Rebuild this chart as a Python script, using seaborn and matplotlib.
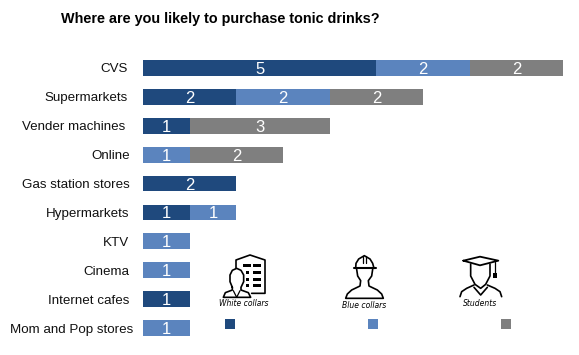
import numpy as np
import pandas as pd
import seaborn as sns
import matplotlib
matplotlib.use('Agg')
import matplotlib.pyplot as plt
from matplotlib.patches import Rectangle
from matplotlib.transforms import ScaledTranslation

channels = ['CVS', 'Supermarkets', 'Vender machines', 'Online', 'Gas station stores',
            'Hypermarkets', 'KTV', 'Cinema', 'Internet cafes', 'Mom and Pop stores']
white_collars = [5, 2, 1, 0, 2, 1, 0, 0, 1, 0]
blue_collars = [2, 2, 0, 1, 0, 1, 1, 1, 0, 1]
students = [2, 2, 3, 2, 0, 0, 0, 0, 0, 0]
segments = ['White collars', 'Blue collars', 'Students']
title_text = 'Where are you likely to purchase tonic drinks?'

DARK, BLUE, GREY = '#1F497D', '#5B84BE', '#7F7F7F'
W, H = 579, 355

sns.set_theme(style='white')
plt.rcParams['font.family'] = ['Liberation Sans', 'DejaVu Sans']

df = pd.DataFrame({'channel': channels, 'White collars': white_collars,
                   'Blue collars': blue_collars, 'Students': students})

fig = plt.figure(figsize=(W / 100, H / 100), dpi=100)
ax = fig.add_axes([143 / W, 1 - 342.5 / H, 420 / W, 289 / H])

# stacked bars, one barplot call per segment
left = np.zeros(len(df))
for seg, col in zip(segments, [DARK, BLUE, GREY]):
    sns.barplot(data=df, y='channel', x=seg, left=left, color=col, saturation=1,
                width=0.55, ax=ax, label=seg, legend=False, linewidth=0, edgecolor='none')
    cont = ax.containers[-1]
    labs = [str(v) if v else '' for v in df[seg]]
    for t in ax.bar_label(cont, labels=labs, label_type='center', color='white', fontsize=12):
        t.set_va('center_baseline')
    left = left + df[seg].to_numpy()

ax.set_xlim(0, 9)
ax.set_ylim(9.5, -0.5)
ax.set_xlabel('')
ax.set_ylabel('')
ax.set_xticks([])
ax.tick_params(axis='y', length=0, pad=10, labelsize=9.6, labelcolor='#111111')
sns.despine(ax=ax, left=True, bottom=True)

# the labels in the original are not quite flush right
label_shift = [-1, -1, -4, 1, 1, 0, 0, 0, 0, 4]
for lab, dx in zip(ax.get_yticklabels(), label_shift):
    lab.set_transform(lab.get_transform() + ScaledTranslation(dx / 100, 0, fig.dpi_scale_trans))

fig.text(61 / W, 1 - 19 / H, title_text, fontsize=10.4, fontweight='bold',
         color='black', va='center', ha='left')

# overlay in pixel coords for the icon legend
ov = fig.add_axes([0, 0, 1, 1])
ov.set_xlim(0, W)
ov.set_ylim(H, 0)
ov.axis('off')


def z(points):
    return [200 + p[0] / 3 for p in points], [240 + p[1] / 3 for p in points]


def stroke(points, lw=1.2):
    xs, ys = z(points)
    ov.plot(xs, ys, color='black', lw=lw, solid_capstyle='round', solid_joinstyle='round')


def block(x, y, w, h):
    ov.add_patch(Rectangle((200 + x / 3, 240 + y / 3), w / 3, h / 3, color='black', lw=0))


# white collars icon
stroke([(108, 85), (108, 60), (150, 45), (195, 60), (195, 160), (155, 160)])
for bx, by, bw in [(130, 72, 24), (160, 72, 22), (160, 94, 22), (160, 113, 22),
                   (160, 132, 22), (137, 94, 10), (137, 113, 10), (137, 132, 10)]:
    block(bx, by, bw, 9)
stroke([(97, 142), (90, 125), (90, 105), (97, 91), (110, 85), (123, 91), (131, 105), (131, 125),
        (123, 142), (123, 150), (145, 158), (152, 172), (70, 172), (76, 158), (97, 150), (97, 142)])
stroke([(100, 152), (110, 172), (120, 152)], lw=0.9)

# blue collars icon
stroke([(462, 85), (527, 85)], lw=1.5)
stroke([(467, 85), (468, 70), (476, 57), (493, 47), (510, 57), (518, 70), (522, 85)])
stroke([(488, 48), (488, 68)], lw=0.9)
stroke([(499, 48), (499, 68)], lw=0.9)
stroke([(470, 88), (473, 108), (482, 122), (480, 138), (455, 150), (442, 162), (437, 175),
        (550, 175), (545, 162), (532, 150), (507, 138), (505, 122), (515, 108), (518, 88)])

# students icon
stroke([(790, 62), (840, 50), (895, 62), (840, 76), (790, 62)], lw=1.3)
stroke([(812, 72), (812, 108), (825, 133), (842, 145), (857, 133), (870, 108), (870, 72)])
stroke([(780, 170), (785, 155), (800, 145), (822, 135)])
stroke([(905, 170), (900, 155), (885, 145), (862, 135)])
stroke([(822, 142), (842, 165), (862, 142)])
stroke([(885, 65), (885, 100)], lw=0.9)
block(880, 98, 10, 16)

caption_x = [244, 364, 480]
caption_y = [303, 305, 304]
swatch_x = [225, 368, 501]
for seg, tx, ty, sx, col in zip(segments, caption_x, caption_y, swatch_x, [DARK, BLUE, GREY]):
    ov.text(tx, ty, seg, fontsize=5.5, style='italic', family='DejaVu Sans',
            ha='center', va='center', color='black')
    ov.add_patch(Rectangle((sx, 319), 10, 10, color=col, lw=0))

fig.savefig('out.png', dpi=100, facecolor='white')
